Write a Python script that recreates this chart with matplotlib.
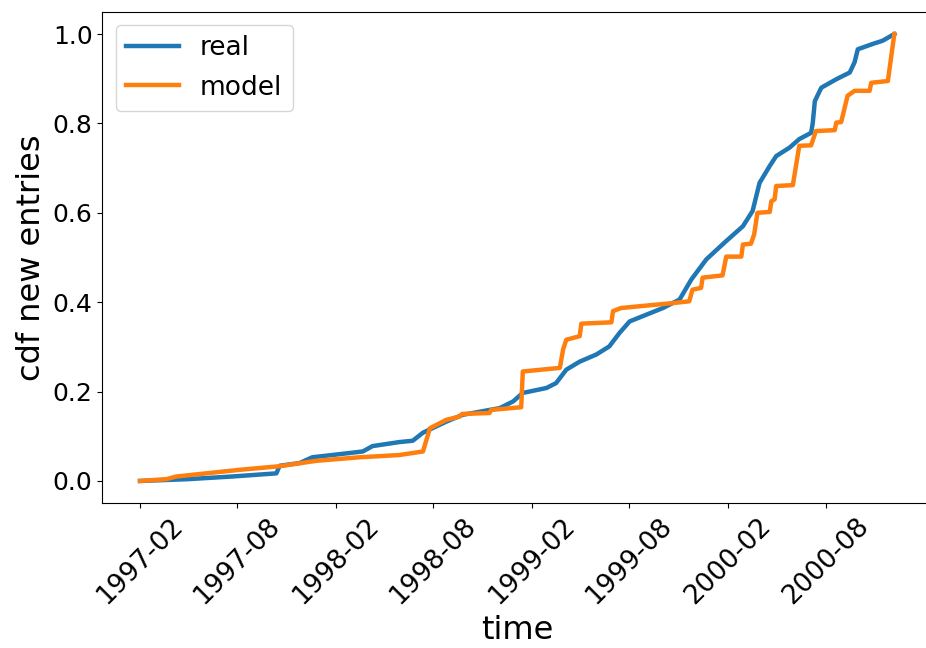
import matplotlib
matplotlib.use('Agg')
import matplotlib.pyplot as plt
import matplotlib.dates as mdates
import numpy as np

# cumulative fraction of new entries
REAL_DATES = ['1997-02-01', '1997-05-01', '1997-07-23', '1997-10-13', '1997-10-19',
              '1997-11-25', '1997-12-19', '1998-02-08', '1998-03-23', '1998-04-10',
              '1998-05-30', '1998-06-24', '1998-07-13', '1998-08-26', '1998-09-25',
              '1998-10-27', '1998-12-03', '1998-12-28', '1999-01-15', '1999-02-28',
              '1999-03-18', '1999-04-06', '1999-05-01', '1999-06-01', '1999-06-25',
              '1999-07-14', '1999-08-02', '1999-09-02', '1999-10-03', '1999-11-03',
              '1999-11-25', '1999-12-23', '2000-01-29', '2000-02-29', '2000-03-18',
              '2000-03-31', '2000-04-19', '2000-05-01', '2000-05-26', '2000-06-13',
              '2000-07-05', '2000-07-08', '2000-07-12', '2000-07-24', '2000-08-21',
              '2000-09-15', '2000-09-24', '2000-09-30', '2000-10-28', '2000-11-15',
              '2000-12-07']
REAL_CDF = [0.000, 0.004, 0.010, 0.017, 0.034,
            0.040, 0.053, 0.060, 0.066, 0.078,
            0.087, 0.090, 0.108, 0.133, 0.148,
            0.155, 0.163, 0.178, 0.197, 0.208,
            0.219, 0.249, 0.267, 0.283, 0.301,
            0.331, 0.357, 0.372, 0.387, 0.406,
            0.451, 0.496, 0.537, 0.570, 0.604,
            0.667, 0.705, 0.727, 0.746, 0.765,
            0.779, 0.800, 0.850, 0.880, 0.899,
            0.914, 0.937, 0.966, 0.978, 0.985,
            1.000]

MODEL_DATES = ['1997-02-01', '1997-03-22', '1997-04-10', '1997-06-04', '1997-08-06',
               '1997-10-19', '1997-12-26', '1998-03-17', '1998-05-30',
               '1998-07-13', '1998-07-26', '1998-08-26', '1998-09-19', '1998-09-24',
               '1998-11-14', '1998-11-17', '1999-01-12', '1999-01-15', '1999-03-25',
               '1999-03-31', '1999-04-06', '1999-05-01', '1999-05-04', '1999-06-29',
               '1999-07-02', '1999-07-17', '1999-10-21', '1999-11-21', '1999-11-27',
               '1999-12-13', '1999-12-16', '2000-01-22', '2000-01-29', '2000-02-26',
               '2000-02-29', '2000-03-15', '2000-03-21', '2000-03-27', '2000-04-19',
               '2000-04-22', '2000-04-28', '2000-05-01', '2000-06-01', '2000-06-13',
               '2000-07-05', '2000-07-14', '2000-08-18', '2000-08-21', '2000-08-30',
               '2000-09-11', '2000-09-24', '2000-10-22', '2000-10-25', '2000-11-25',
               '2000-12-07']
MODEL_CDF = [0.000, 0.004, 0.010, 0.017, 0.025,
             0.033, 0.045, 0.053, 0.058,
             0.066, 0.118, 0.137, 0.144, 0.150,
             0.152, 0.159, 0.165, 0.245, 0.253,
             0.294, 0.316, 0.324, 0.352, 0.355,
             0.380, 0.387, 0.398, 0.402, 0.428,
             0.432, 0.455, 0.460, 0.502, 0.502,
             0.529, 0.531, 0.552, 0.600, 0.602,
             0.626, 0.630, 0.660, 0.662, 0.750,
             0.751, 0.783, 0.785, 0.802, 0.803,
             0.862, 0.873, 0.873, 0.891, 0.895,
             1.000]

TICK_DATES = ['1997-02-01', '1997-08-01', '1998-02-01', '1998-08-01',
              '1999-02-01', '1999-08-01', '2000-02-01', '2000-08-01']

real_t = np.array(REAL_DATES, dtype='datetime64[D]')
model_t = np.array(MODEL_DATES, dtype='datetime64[D]')
ticks_t = np.array(TICK_DATES, dtype='datetime64[D]')

fig = plt.figure(figsize=(9.26, 6.48), dpi=100)
ax = fig.add_axes([0.1105, 0.2233, 0.896, 0.7586])

ax.plot(real_t, REAL_CDF, color='#1f77b4', lw=3.2, label='real')
ax.plot(model_t, MODEL_CDF, color='#ff7f0e', lw=3.2, label='model')

ax.set_xticks(ticks_t)
ax.xaxis.set_major_formatter(mdates.DateFormatter('%Y-%m'))
ax.tick_params(axis='y', labelsize=18)
ax.tick_params(axis='x', labelsize=19)
plt.setp(ax.get_xticklabels(), rotation=45)
ax.set_xlabel('time', fontsize=23)
ax.set_ylabel('cdf new entries', fontsize=23)
ax.legend(fontsize=19, loc='upper left')

fig.savefig('out.png', dpi=100)
